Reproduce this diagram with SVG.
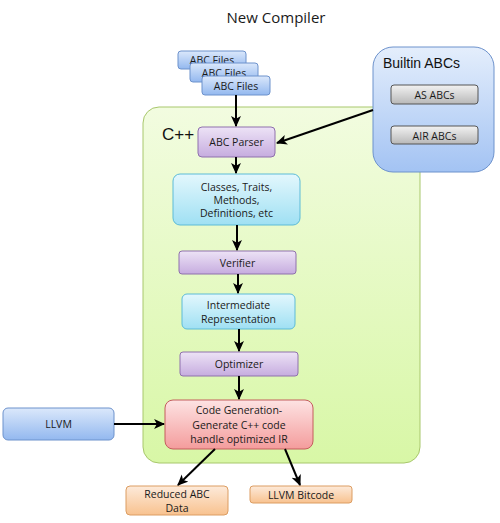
<svg xmlns="http://www.w3.org/2000/svg" width="500" height="523" viewBox="0 0 500 523">
<defs>
<linearGradient id="gBlue" x1="0" y1="0" x2="0" y2="1"><stop offset="0" stop-color="#dbe8fb"/><stop offset="1" stop-color="#93b8ef"/></linearGradient>
<linearGradient id="gBuiltin" x1="0" y1="0" x2="0" y2="1"><stop offset="0" stop-color="#e4eefc"/><stop offset="1" stop-color="#a3c3f3"/></linearGradient>
<linearGradient id="gPurple" x1="0" y1="0" x2="0" y2="1"><stop offset="0" stop-color="#ede3f6"/><stop offset="1" stop-color="#c6acdf"/></linearGradient>
<linearGradient id="gCyan" x1="0" y1="0" x2="0" y2="1"><stop offset="0" stop-color="#e3f7fd"/><stop offset="1" stop-color="#9fe0f3"/></linearGradient>
<linearGradient id="gRed" x1="0" y1="0" x2="0" y2="1"><stop offset="0" stop-color="#fde3e3"/><stop offset="1" stop-color="#f49c9c"/></linearGradient>
<linearGradient id="gOrange" x1="0" y1="0" x2="0" y2="1"><stop offset="0" stop-color="#fdeada"/><stop offset="1" stop-color="#f8c28f"/></linearGradient>
<linearGradient id="gGray" x1="0" y1="0" x2="0" y2="1"><stop offset="0" stop-color="#f2f2f2"/><stop offset="1" stop-color="#b8b8b8"/></linearGradient>
<linearGradient id="gGreen" x1="0" y1="0" x2="0" y2="1"><stop offset="0" stop-color="#f2fce0"/><stop offset="1" stop-color="#d8f7a6"/></linearGradient>
<marker id="arr" viewBox="0 0 10 10" refX="9" refY="5" markerWidth="5.5" markerHeight="5.5" orient="auto-start-reverse"><path d="M0,0.5 L10,5 L0,9.5 L2.5,5 z" fill="#000"/></marker>
</defs>
<style>
text{font-family:"Open Sans","Liberation Sans",sans-serif;fill:#1a1a1a;text-anchor:middle}
.n{font-size:10.5px}
.blue{fill:url(#gBlue);stroke:#6d92cc;stroke-width:1}
.purple{fill:url(#gPurple);stroke:#8f70ad;stroke-width:1}
.cyan{fill:url(#gCyan);stroke:#5cbbd7;stroke-width:1}
.red{fill:url(#gRed);stroke:#c45d5d;stroke-width:1}
.orange{fill:url(#gOrange);stroke:#dc9d62;stroke-width:1}
.gray{fill:url(#gGray);stroke:#555;stroke-width:1}
.c{stroke:#000;stroke-width:2;fill:none;marker-end:url(#arr)}
</style>
<rect width="500" height="523" fill="#fff"/>
<text x="276" y="23" style="font-size:15px">New Compiler</text>

<g id="cpp">
<rect x="143" y="107" width="277" height="356" rx="16" fill="url(#gGreen)" stroke="#a8c76c" stroke-width="1"/>
<text x="162" y="140" style="font-family:'Liberation Sans',Arial,sans-serif;font-size:17px;text-anchor:start;fill:#111">C++</text>
</g>

<g id="builtin">
<rect x="373" y="47" width="121" height="125" rx="20" fill="url(#gBuiltin)" stroke="#6d92cc"/>
<text x="383" y="68" style="font-family:'Liberation Sans',Arial,sans-serif;font-size:14px;text-anchor:start;fill:#111">Builtin ABCs</text>
</g>
<g id="as-abcs"><rect x="391" y="85" width="87" height="19" rx="3" class="gray"/><text x="434.5" y="99" class="n">AS ABCs</text></g>
<g id="air-abcs"><rect x="391" y="126" width="87" height="18" rx="3" class="gray"/><text x="434.5" y="139.5" class="n">AIR ABCs</text></g>

<g id="abc-files-1"><rect x="178" y="51" width="68" height="18" rx="3" class="blue"/><text x="212" y="64" class="n">ABC Files</text></g>
<g id="abc-files-2"><rect x="190" y="63" width="68" height="19" rx="3" class="blue"/><text x="224" y="77" class="n">ABC Files</text></g>
<g id="abc-files-3"><rect x="202" y="76" width="68" height="19" rx="3" class="blue"/><text x="236" y="90" class="n">ABC Files</text></g>

<g id="abc-parser"><rect x="198" y="127" width="77" height="30" rx="4" class="purple"/><text x="236.5" y="146" class="n">ABC Parser</text></g>
<g id="classes"><rect x="173" y="174" width="127" height="51" rx="7" class="cyan"/>
<text x="236.5" y="191" class="n">Classes, Traits,</text><text x="236.5" y="204" class="n">Methods,</text><text x="236.5" y="217" class="n">Definitions, etc</text></g>
<g id="verifier"><rect x="179" y="251" width="117" height="23" rx="3" class="purple"/><text x="237.5" y="267" class="n">Verifier</text></g>
<g id="ir"><rect x="182" y="294" width="113" height="35" rx="5" class="cyan"/>
<text x="238.5" y="309" class="n">Intermediate</text><text x="238.5" y="323" class="n">Representation</text></g>
<g id="optimizer"><rect x="180" y="352" width="118" height="24" rx="3" class="purple"/><text x="239" y="368" class="n">Optimizer</text></g>
<g id="codegen"><rect x="165" y="400" width="148" height="49" rx="8" class="red"/>
<text x="239" y="414" class="n">Code Generation-</text><text x="239" y="429" class="n">Generate C++ code</text><text x="239" y="443" class="n">handle optimized IR</text></g>
<g id="llvm"><rect x="3" y="408" width="111" height="32" rx="5" class="blue"/><text x="58.5" y="428" class="n">LLVM</text></g>
<g id="reduced"><rect x="126" y="486" width="102" height="29" rx="4" class="orange"/>
<text x="177" y="498" class="n">Reduced ABC</text><text x="177" y="512" class="n">Data</text></g>
<g id="bitcode"><rect x="250" y="486" width="102" height="17" rx="3" class="orange"/><text x="301" y="498.5" class="n">LLVM Bitcode</text></g>

<g id="connectors">
<line x1="236" y1="95" x2="236" y2="126" class="c"/>
<line x1="373" y1="110" x2="277" y2="143" class="c"/>
<line x1="236" y1="157" x2="236" y2="173" class="c"/>
<line x1="237" y1="225" x2="237" y2="250" class="c"/>
<line x1="238" y1="274" x2="238" y2="293" class="c"/>
<line x1="239" y1="329" x2="239" y2="351" class="c"/>
<line x1="239" y1="376" x2="239" y2="399" class="c"/>
<line x1="114" y1="424" x2="164" y2="424" class="c"/>
<line x1="215" y1="449" x2="178" y2="485" class="c"/>
<line x1="285" y1="449" x2="300" y2="485" class="c"/>
</g>
</svg>
